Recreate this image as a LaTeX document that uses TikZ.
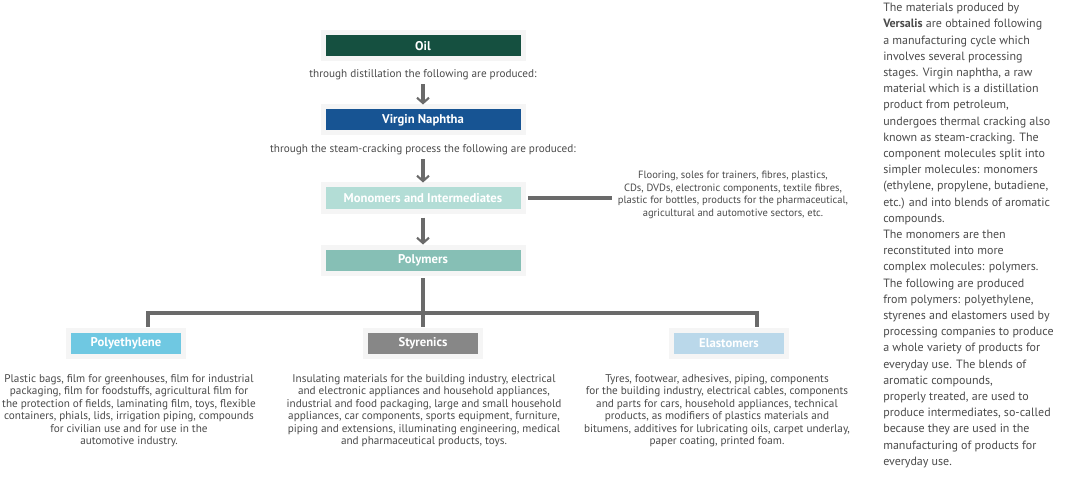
\documentclass[tikz,border=0pt]{standalone}
\usepackage{fontspec}
\setmainfont{PT Sans}
\usetikzlibrary{arrows.meta}
\definecolor{oil}{HTML}{155040}
\definecolor{nap}{HTML}{175493}
\definecolor{mono}{HTML}{B3DDD6}
\definecolor{poly}{HTML}{86BFB5}
\definecolor{pe}{HTML}{6FC8E2}
\definecolor{sty}{HTML}{878787}
\definecolor{ela}{HTML}{BAD8EA}
\definecolor{ln}{HTML}{6A6A6A}
\definecolor{tx}{HTML}{4A4A4A}
\begin{document}
\begin{tikzpicture}[x=0.75pt,y=-0.75pt,
  box/.style={draw=black!4,line width=3.75pt,minimum height=26*0.75pt,text=white,font=\bfseries\fontsize{9.5}{10}\selectfont,inner sep=0pt},
  big/.style={box,minimum width=200*0.75pt},
  small/.style={box,minimum width=115*0.75pt},
  lbl/.style={text=tx,font=\fontsize{8.4}{9.4}\selectfont,align=center,inner sep=0pt},
  conn/.style={ln,line width=2.4pt},
  arr/.style={conn,-{Straight Barb[length=4pt,width=9pt,line width=1.6pt]}}]
\useasboundingbox (0,0) rectangle (1076,485);
\node[big,fill=oil] (oil) at (423,46) {Oil};
\node[lbl] (t1) at (423,75) {through distillation the following are produced:};
\node[big,fill=nap] (nap) at (423,120) {Virgin Naphtha};
\node[lbl] (t2) at (423,150) {through the steam-cracking process the following are produced:};
\node[big,fill=mono] (mono) at (423,198) {Monomers and Intermediates};
\node[big,fill=poly] (poly) at (423,260) {Polymers};
\node[lbl,font=\fontsize{7.9}{9.4}\selectfont] (mt) at (733,195) {Flooring, soles for trainers, fibres, plastics,\\CDs, DVDs, electronic components, textile fibres,\\plastic for bottles, products for the pharmaceutical,\\agricultural and automotive sectors, etc.};
\coordinate (me) at (612,198);
\draw[conn] (mono.east) ++(2.5,0) -- (me);
\draw[arr] (t1.south -| oil) ++(0,4) -- (nap.north);
\draw[arr] (t2.south -| oil) ++(0,4) -- (mono.north);
\draw[arr] (mono.south) ++(0,4) -- (poly.north);
\node[small,fill=pe] (pe) at (126,343) {Polyethylene};
\node[small,fill=sty] (sty) at (423,343) {Styrenics};
\node[small,fill=ela] (ela) at (729,343) {Elastomers};
\coordinate (jl) at (148,313);
\coordinate (jr) at (757,313);
\coordinate (jc) at (423,313);
\draw[conn] (poly.south) ++(0,2.5) -- (jc);
\draw[conn] (148,327) -- (jl) -- (jr) -- (757,327);
\draw[conn] (jc) -- (423,327);
\node[lbl,anchor=north] (pet) at (129,374) {Plastic bags, film for greenhouses, film for industrial\\packaging, film for foodstuffs, agricultural film for\\the protection of fields, laminating film, toys, flexible\\containers, phials, lids, irrigation piping, compounds\\for civilian use and for use in the\\automotive industry.};
\node[lbl,anchor=north] (styt) at (424,374) {Insulating materials for the building industry, electrical\\and electronic appliances and household appliances,\\industrial and food packaging, large and small household\\appliances, car components, sports equipment, furniture,\\piping and extensions, illuminating engineering, medical\\and pharmaceutical products, toys.};
\node[lbl,anchor=north] (elat) at (717,374) {Tyres, footwear, adhesives, piping, components\\for the building industry, electrical cables, components\\and parts for cars, household appliances, technical\\products, as modifiers of plastics materials and\\bitumens, additives for lubricating oils, carpet underlay,\\paper coating, printed foam.};
\node[text=tx,font=\fontsize{9}{12.15}\selectfont,align=left,anchor=north west,inner sep=0pt] (side) at (883,3) {The materials produced by\\\textbf{Versalis} are obtained following\\a manufacturing cycle which\\involves several processing\\stages. Virgin naphtha, a raw\\material which is a distillation\\product from petroleum,\\undergoes thermal cracking also\\known as steam-cracking. The\\component molecules split into\\simpler molecules: monomers\\(ethylene, propylene, butadiene,\\etc.) and into blends of aromatic\\compounds.\\The monomers are then\\reconstituted into more\\complex molecules: polymers.\\The following are produced\\from polymers: polyethylene,\\styrenes and elastomers used by\\processing companies to produce\\a whole variety of products for\\everyday use. The blends of\\aromatic compounds,\\properly treated, are used to\\produce intermediates, so-called\\because they are used in the\\manufacturing of products for\\everyday use.};
\end{tikzpicture}
\end{document}
